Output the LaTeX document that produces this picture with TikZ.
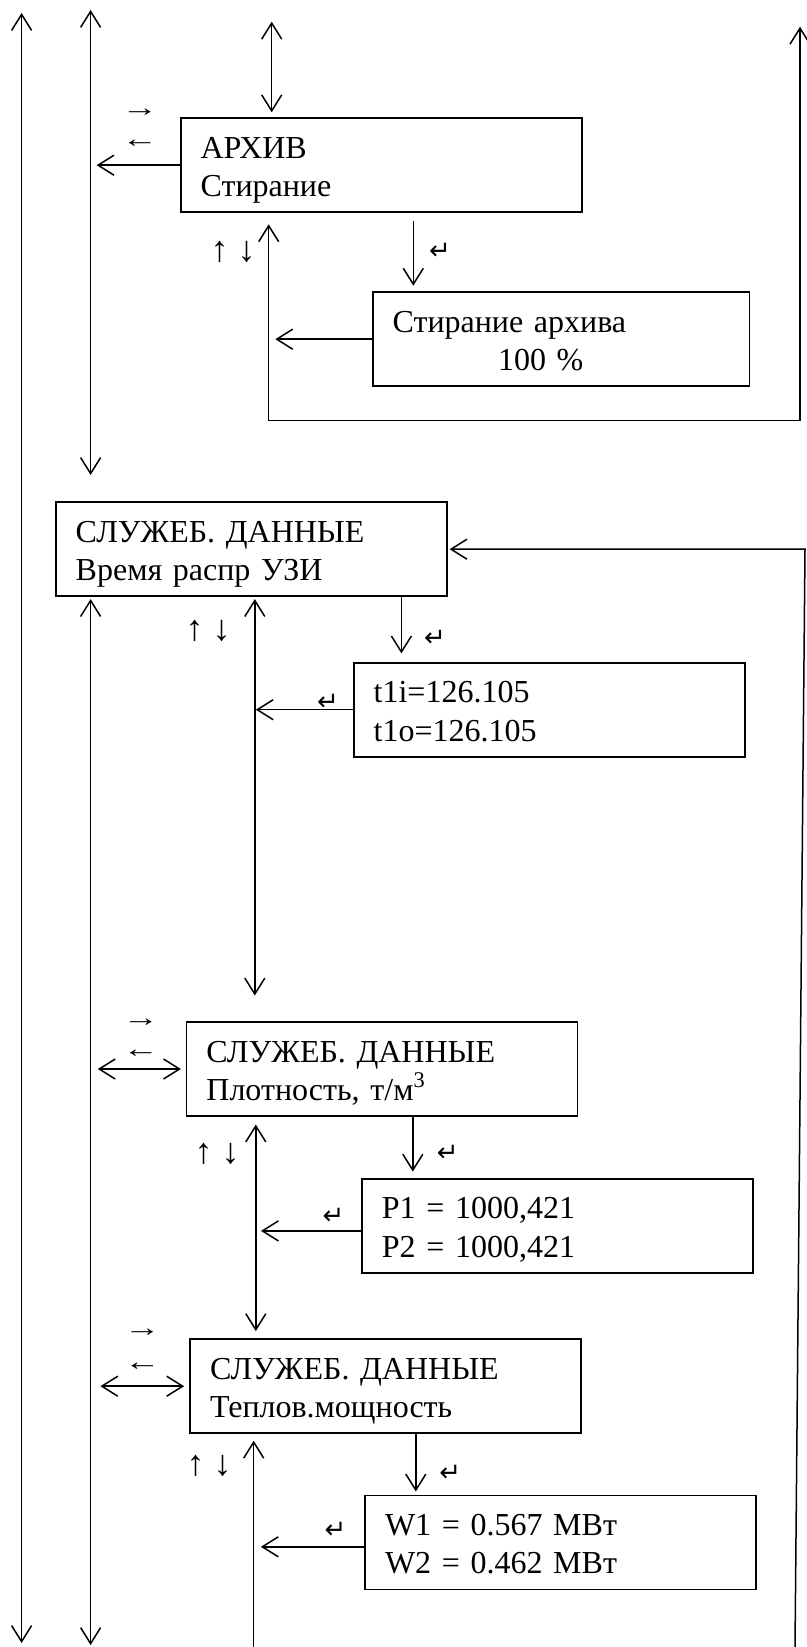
\documentclass[tikz,border=0pt]{standalone}
\usepackage{fontspec}
\setmainfont{Liberation Serif}
\newfontfamily\retfont{DejaVu Sans}
\usetikzlibrary{arrows.meta}

\begin{document}
\begin{tikzpicture}[
    x=0.5pt, y=-0.5pt,
    line width=0.75pt,
    box/.style={draw, line width=0.9pt, align=left, inner xsep=10pt, inner ysep=0pt,
        text width=175.5pt, minimum height=47pt, font=\fontsize{16}{19.2}\selectfont,
        execute at begin node=\rule{0pt}{17.5pt},
        execute at end node=\rule[-5.3pt]{0pt}{5.3pt}},
    sym/.style={inner sep=0pt, text height=10pt, text depth=0pt, font=\fontsize{18}{18}\selectfont},
    hsym/.style={inner sep=0pt, xscale=1.4, font=\fontsize{13}{13}\selectfont},
    ret/.style={inner sep=0pt, font=\retfont\fontsize{13}{13}\selectfont},
    >={Straight Barb[length=8pt, width=10pt]}
]
\useasboundingbox (0,0) rectangle (807,1647);

% menu boxes
\node[box, text width=180.7pt] (arch) at (381.3,165.2) {АРХИВ\\Стирание};
\node[box, text width=168.4pt] (erase) at (561,339.2) {Стирание архива\\\hspace*{52.7pt}100 \%};
\node[box] (sd1) at (251.2,549.2) {СЛУЖЕБ. ДАННЫЕ\\Время распр УЗИ};
\node[box] (tof) at (549.2,709.7) {t1i=126.105\\t1o=126.105};
\node[box] (sd2) at (381.9,1069) {СЛУЖЕБ. ДАННЫЕ\\Плотность, т/м\textsuperscript{3}};
\node[box] (dens) at (557.4,1225.9) {P1 = 1000,421\\P2 = 1000,421};
\node[box] (sd3) at (385.5,1386.2) {СЛУЖЕБ. ДАННЫЕ\\Теплов.мощность};
\node[box] (pow) at (560.5,1542.4) {W1 = 0.567 МВт\\W2 = 0.462 МВт};

% key labels
\node[hsym] (rt1) at (139.7,113.3) {→};
\node[hsym] (lt1) at (139.7,144) {←};
\node[sym] (ud1) at (233,251.7) {↑\hspace{4.5pt}↓};
\node[ret] (en1) at (440,251.7) {↵};
\node[sym] (ud2) at (208,630) {↑\hspace{4.5pt}↓};
\node[ret] (en2) at (435,638.3) {↵};
\node[ret] (en3) at (328,702) {↵};
\node[hsym] (rt3) at (140.8,1023.3) {→};
\node[hsym] (lt3) at (140.8,1054.3) {←};
\node[sym] (ud3) at (217,1153.3) {↑\hspace{4.5pt}↓};
\node[ret] (en4) at (447.8,1153.3) {↵};
\node[ret] (en5) at (333.5,1216.7) {↵};
\node[hsym] (rt4) at (142.4,1333.3) {→};
\node[hsym] (lt4) at (142.4,1366.7) {←};
\node[sym] (ud4) at (209,1465) {↑\hspace{4.5pt}↓};
\node[ret] (en6) at (450.3,1473.3) {↵};
\node[ret] (en7) at (335.6,1530) {↵};

% line ends
\coordinate (Ltop) at (21.6,13);
\coordinate (Lbot) at (21.6,1643);
\coordinate (Mtop) at (90.6,10);
\coordinate (Mmid) at (90.6,475);
\coordinate (Mbot) at (90.6,1645);
\coordinate (Atop) at (271.7,21.7);
\coordinate (Rtop) at (800,26.7);
\coordinate (Rbot) at (800,420.7);
\coordinate (Aret) at (268.7,420.7);
\coordinate (Adn) at (413.3,0);
\coordinate (R2) at (805,549);
\coordinate (R2bot) at (795,1647);
\coordinate (B1) at (254.8,0);
\coordinate (D1) at (401.4,0);
\coordinate (B2) at (255.8,0);
\coordinate (D2) at (412.8,0);
\coordinate (B3) at (253.7,1647);
\coordinate (D3) at (415.8,0);

% long lines
\draw[<->] (Ltop) -- (Lbot);
\draw[<->] (Mtop) -- (Mmid);
\draw[<->, shorten >=1pt] (Mbot) -- (Mbot |- sd1.south);

% archive
\draw[<->, shorten >=2.5pt] (Atop) -- (Atop |- arch.north);
\draw[->, shorten >=3pt] (arch.west) -- (arch.west -| Mtop);
\draw[<->, shorten >=5.6pt] (Rtop) -- (Rbot) -- (Aret) -- (Aret |- arch.south);
\draw[->, shorten <=4pt, shorten >=2.8pt] (Adn |- arch.south) -- (Adn |- erase.north);
\draw[->, shorten >=3.3pt] (erase.west) -- (erase.west -| Aret);

% time of flight
\draw[->, shorten >=1pt] (R2bot) -- (R2) -- (sd1.east);
\draw[<->, shorten <=1pt, shorten >=12.8pt] (B1 |- sd1.south) -- (B1 |- sd2.north);
\draw[->, shorten >=4.2pt] (D1 |- sd1.south) -- (D1 |- tof.north);
\draw[->, shorten >=0.5pt] (tof.west) -- (tof.west -| B1);

% density
\draw[<->, shorten <=3.6pt, shorten >=2.3pt] (sd2.west -| Mtop) -- (sd2.west);
\draw[<->, shorten <=3.8pt, shorten >=3.6pt] (B2 |- sd2.south) -- (B2 |- sd3.north);
\draw[->, shorten >=3.2pt] (D2 |- sd2.south) -- (D2 |- dens.north);
\draw[->, shorten >=2.6pt] ([yshift=-2.5pt]dens.west) -- ([yshift=-2.5pt]dens.west -| B2);

% heat power
\draw[<->, shorten <=4.9pt, shorten >=2.5pt] (sd3.west -| Mtop) -- (sd3.west);
\draw[->, shorten >=3.3pt] (B3) -- (B3 |- sd3.south);
\draw[->, shorten >=1.5pt] (D3 |- sd3.south) -- (D3 |- pow.north);
\draw[->, shorten >=3.6pt] ([yshift=-2.2pt]pow.west) -- ([yshift=-2.2pt]pow.west -| B3);
\end{tikzpicture}
\end{document}
